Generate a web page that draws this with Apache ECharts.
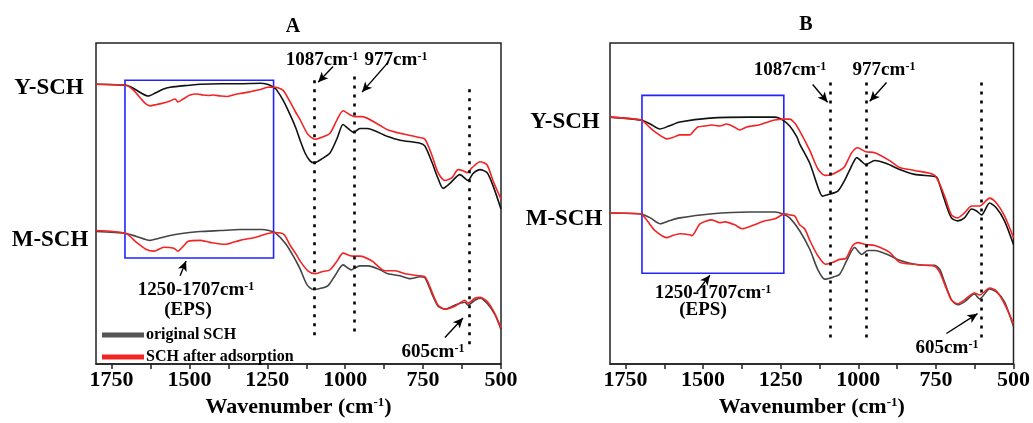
<!DOCTYPE html>
<html>
<head>
<meta charset="utf-8">
<script src="https://cdn.jsdelivr.net/npm/echarts@6/dist/echarts.min.js"></script>
<style>
  html, body { margin: 0; padding: 0; background: #fff; }
  #chart { width: 1033px; height: 423px; }
</style>
</head>
<body>
<div id="chart"></div>
<script>
// x: wavenumber (cm-1), y: transmittance (arbitrary units, offset spectra)
var tickLabels = [500, 750, 1000, 1250, 1500, 1750];
var tickMarks = [500, 625, 750, 875, 1000, 1125, 1250, 1375, 1500, 1625, 1750];

// panel A
var aYOrig = [[1800,285],[1704,284],[1680,281],[1655,276],[1633,273],[1610,276],[1585,280],[1562,282],[1500,284],[1466,285],[1400,285.5],[1338,285.5],[1274,286],[1250,285],[1230,282],[1222,280],[1200,269],[1177,254],[1158,240],[1145,228],[1129,215],[1113,207],[1100,205],[1075,209],[1049,215],[1026,230],[1007,244],[991,240],[972,236],[953,240],[930,240],[866,232],[824,228],[760,225],[744,222],[721,205],[702,189],[686,179],[664,184],[632,193],[606,187],[590,194],[567,198],[545,195],[526,182],[500,158]];
var aYAds = [[1800,285],[1704,284],[1680,279],[1655,270],[1640,265],[1627,263],[1610,264],[1595,265],[1562,268],[1546,270],[1537,267],[1520,270],[1498,274],[1475,275],[1457,274],[1440,273.5],[1424,274],[1400,273],[1379,272.5],[1360,274],[1338,275.5],[1310,277],[1290,278.5],[1270,280],[1248,282],[1225,282],[1200,279],[1177,267],[1160,257],[1145,249],[1120,234],[1097,229],[1075,231],[1049,235],[1026,249],[1007,258],[985,254],[969,252],[946,252],[888,243],[866,239],[824,235],[766,231],[744,229],[721,212],[702,195],[680,187],[657,190],[638,198],[622,197],[609,195],[593,200],[567,206],[545,203],[526,187],[500,168]];
var aMOrig = [[1800,135],[1704,133],[1670,130],[1627,126],[1600,128],[1562,131],[1500,134],[1466,135],[1400,136],[1338,137],[1267,137],[1245,136],[1225,134],[1190,122],[1158,105],[1145,97],[1123,81],[1103,76],[1081,77],[1055,80],[1033,90],[1007,101],[981,96],[953,100],[927,100],[888,96],[863,92],[824,90],[792,87],[760,89],[744,88],[721,71],[702,59],[680,56],[648,60],[616,63],[606,60],[584,65],[567,67],[542,61],[519,50],[500,35]];
var aMAds = [[1800,136],[1704,133],[1670,124],[1640,117],[1614,115],[1582,119],[1550,118],[1537,115],[1520,120],[1504,125],[1466,126],[1434,124],[1386,122],[1360,124],[1338,126],[1290,129],[1248,133],[1225,134],[1197,132],[1177,121],[1158,112],[1145,105],[1120,95],[1097,92],[1075,94],[1049,96],[1026,105],[1007,113],[978,110],[953,110],[914,105],[872,95],[840,95],[808,92],[766,90],[744,89],[721,73],[702,60],[680,56],[648,59],[616,65],[606,62],[584,67],[567,68],[542,63],[519,51],[500,37]];

// panel B
var bYOrig = [[1800,250],[1700,247],[1670,243],[1639,238],[1610,241],[1575,245],[1478,249],[1350,250],[1269,250],[1243,247],[1221,241],[1198,230],[1189,223],[1156,203],[1131,180],[1115,170],[1092,172],[1066,175],[1044,186],[1021,201],[1005,209],[989,205],[976,202],[947,206],[909,203],[867,197],[819,192],[754,190],[745,188],[722,166],[700,148],[680,145],[658,148],[635,157],[619,155],[603,151],[577,163],[555,158],[529,145],[500,121]];
var bYAds = [[1800,250],[1700,247],[1680,242],[1655,235],[1617,228],[1600,229],[1575,232],[1543,232],[1530,236],[1517,240],[1495,241],[1472,242],[1446,241],[1424,243],[1400,240],[1382,237],[1360,240],[1343,241],[1320,242],[1301,244],[1269,247],[1243,248],[1221,248],[1205,244],[1189,236],[1156,216],[1131,198],[1108,191],[1086,192],[1060,196],[1044,200],[1021,214],[1002,219],[976,215],[947,214],[899,206],[867,199],[819,196],[754,191],[722,170],[700,151],[680,148],[658,153],[635,160],[609,160],[577,168],[555,163],[529,150],[500,128]];
var bMOrig = [[1800,153],[1700,152],[1670,148],[1639,142],[1610,145],[1575,148],[1478,152],[1350,154],[1269,154],[1243,152],[1221,148],[1189,135],[1156,116],[1131,96],[1108,86],[1082,88],[1060,91],[1037,105],[1012,118],[989,111],[970,115],[947,115],[899,110],[867,105],[819,101],[786,100],[754,100],[738,96],[722,83],[700,65],[680,60],[658,63],[626,71],[609,66],[577,76],[555,73],[529,63],[500,38]];
var bMAds = [[1800,153],[1700,152],[1680,145],[1655,135],[1617,128],[1600,130],[1575,132],[1543,131],[1536,130],[1510,142],[1472,146],[1446,143],[1430,144],[1398,141],[1375,137],[1343,140],[1301,145],[1269,147],[1237,152],[1221,151],[1205,150],[1189,141],[1173,137],[1156,125],[1131,110],[1105,101],[1082,103],[1060,106],[1040,107],[1018,120],[1002,123],[976,121],[947,120],[899,113],[867,103],[819,101],[786,100],[754,99],[738,93],[722,81],[700,65],[680,61],[658,65],[626,72],[609,70],[577,77],[555,74],[529,61],[500,41]];

var FONT = "'Liberation Serif','Times New Roman',serif";
var RED = '#f22424', BLK = '#111', GRY = '#454545';

function supRich(size) {
    return { s: { fontSize: size, fontWeight: 'bold', fontFamily: FONT, color: '#000', verticalAlign: 'top' } };
}

function xAxisOf(idx) {
    return {
        gridIndex: idx, type: 'value', min: 500, max: 1800, inverse: true,
        name: 'Wavenumber (cm{s|-1})', nameLocation: 'middle', nameGap: 30,
        nameTextStyle: { fontSize: 22, fontWeight: 'bold', fontFamily: FONT, color: '#000', rich: supRich(13) },
        axisLine: { show: true, lineStyle: { color: '#222', width: 1.5 } },
        axisTick: { show: true, customValues: tickMarks, length: 5, lineStyle: { color: '#222', width: 1.5 } },
        axisLabel: {
            customValues: tickLabels, margin: 5, fontSize: 22, fontWeight: 'bold', fontFamily: FONT, color: '#000',
            formatter: function (v) { return String(v); }
        },
        splitLine: { show: false }
    };
}
function yAxisOf(idx, max) {
    return {
        gridIndex: idx, type: 'value', min: 0, max: max,
        axisLine: { show: false }, axisTick: { show: false }, axisLabel: { show: false }, splitLine: { show: false }
    };
}

// dotted guide line
function dotLine(x, y1, y2) {
    return [{ coord: [x, y1], symbol: 'none', lineStyle: { type: [3, 6], width: 2.6, color: '#000' } }, { coord: [x, y2], symbol: 'none' }];
}
// arrow pointing at a peak
function arrow(x1, y1, x2, y2) {
    return [{ coord: [x1, y1], symbol: 'none', lineStyle: { type: 'solid', width: 1.4, color: '#000' } }, { coord: [x2, y2], symbol: 'arrow', symbolSize: [7, 10] }];
}

function line(name, data, color, xi, extra) {
    var s = {
        name: name, type: 'line', xAxisIndex: xi, yAxisIndex: xi, data: data,
        showSymbol: false, smooth: 0.25, lineStyle: { color: color, width: 1.6 }, itemStyle: { color: color },
        animation: false, silent: true
    };
    for (var k in extra) s[k] = extra[k];
    return s;
}

var markA = {
    markLine: {
        silent: true, animation: false, label: { show: false },
        data: [
            dotLine(1100, 289, 27), dotLine(970, 293, 32), dotLine(603, 280, 18),
            arrow(1039, 303, 1087, 287), arrow(863, 307, 946, 277),
            arrow(1530, 90, 1511, 105), arrow(680, 27, 622, 47)
        ]
    },
    markArea: {
        silent: true,
        itemStyle: { color: 'rgba(0,0,0,0)', borderColor: '#2323ff', borderWidth: 1.6 },
        data: [[{ coord: [1707, 289] }, { coord: [1230, 108] }]]
    }
};
var markB = {
    markLine: {
        silent: true, animation: false, label: { show: false },
        data: [
            dotLine(1089, 285, 21), dotLine(973, 285, 21), dotLine(603, 285, 21),
            arrow(1147, 283, 1099, 265), arrow(909, 285, 963, 266),
            arrow(1520, 73, 1478, 90), arrow(716, 31, 616, 51)
        ]
    },
    markArea: {
        silent: true,
        itemStyle: { color: 'rgba(0,0,0,0)', borderColor: '#2323ff', borderWidth: 1.6 },
        data: [[{ coord: [1697, 272] }, { coord: [1240, 92] }]]
    }
};

function txt(x, y, text, size, sup) {
    return {
        type: 'text', x: x, y: y, silent: true,
        style: {
            text: text, align: 'center', verticalAlign: 'middle', fill: '#000',
            fontSize: size, fontWeight: 'bold', fontFamily: FONT, rich: supRich(sup || 12)
        }
    };
}

var myChart = echarts.init(document.getElementById('chart'));
var option = {
    backgroundColor: '#fff',
    animation: false,
    grid: [
        { left: 96, right: 532, top: 43, bottom: 53, show: true, borderColor: '#222', borderWidth: 1.5 },
        { left: 610, right: 19, top: 43, bottom: 55, show: true, borderColor: '#222', borderWidth: 1.5 }
    ],
    xAxis: [xAxisOf(0), xAxisOf(1)],
    yAxis: [yAxisOf(0, 327), yAxisOf(1, 325)],
    legend: {
        orient: 'vertical', left: 97, top: 322, itemWidth: 42, itemHeight: 5, itemGap: 6,
        icon: 'rect', selectedMode: false,
        textStyle: { fontSize: 16, fontWeight: 'bold', fontFamily: FONT, color: '#000', padding: [0, 0, 0, -3] },
        data: [
            { name: 'original SCH', itemStyle: { color: '#555' } },
            { name: 'SCH after adsorption', itemStyle: { color: RED } }
        ]
    },
    graphic: [
        txt(293, 27, 'A', 20), txt(806, 25, 'B', 20),
        txt(49, 88, 'Y-SCH', 23), txt(50, 240, 'M-SCH', 23),
        txt(565, 122, 'Y-SCH', 23), txt(564, 219, 'M-SCH', 23),
        txt(322, 60, '1087cm{s|-1}', 19), txt(396, 60, '977cm{s|-1}', 19),
        txt(196, 290, '1250-1707cm{s|-1}', 19), txt(188, 310, '(EPS)', 19),
        txt(433, 352, '605cm{s|-1}', 19),
        txt(790, 70, '1087cm{s|-1}', 19), txt(884, 70, '977cm{s|-1}', 19),
        txt(713, 293, '1250-1707cm{s|-1}', 19), txt(703, 310, '(EPS)', 19),
        txt(947, 348, '605cm{s|-1}', 19)
    ],
    series: [
        line('original SCH', aYOrig, BLK, 0, markA),
        line('SCH after adsorption', aYAds, RED, 0),
        line('original SCH', aMOrig, GRY, 0),
        line('SCH after adsorption', aMAds, RED, 0),
        line('original SCH', bYOrig, BLK, 1, markB),
        line('SCH after adsorption', bYAds, RED, 1),
        line('original SCH', bMOrig, GRY, 1),
        line('SCH after adsorption', bMAds, RED, 1)
    ]
};
myChart.setOption(option);
</script>
</body>
</html>
